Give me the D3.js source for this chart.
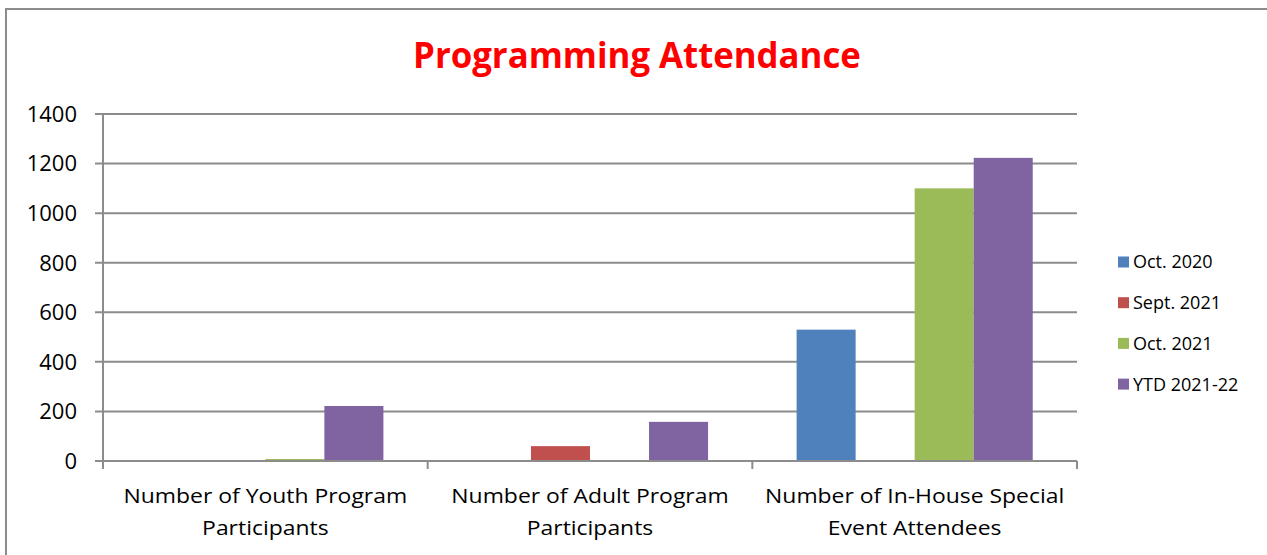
<!DOCTYPE html>
<html>
<head>
<meta charset="utf-8">
<script src="https://cdn.jsdelivr.net/npm/d3@7"></script>
<style>
  html, body { margin: 0; padding: 0; background: #fff; }
  svg { display: block; }
</style>
</head>
<body>
<svg id="chart" width="1267" height="555"></svg>
<script>
// chart data
const categories = [
  ["Number of Youth Program", "Participants"],
  ["Number of Adult Program", "Participants"],
  ["Number of In-House Special", "Event Attendees"]
]
const seriesNames = ["Oct. 2020", "Sept. 2021", "Oct. 2021", "YTD 2021-22"]
const oct2020  = [0, 0, 530]
const sept2021 = [0, 60, 0]
const oct2021  = [8, 0, 1100]
const ytd2122  = [222, 158, 1223]
const yTicks   = [0, 200, 400, 600, 800, 1000, 1200, 1400]

const seriesValues = [oct2020, sept2021, oct2021, ytd2122]
const colors = ["#4F81BD", "#C0504D", "#9BBB59", "#8064A2"]
const gridColor = "#8c8c8c"
const font = "'Open Sans', 'Liberation Sans', Arial, sans-serif"

const svg = d3.select("#chart")

// stretch a text horizontally (around its anchor) to reach a width
function stretchTo(sel, w) {
  sel.each(function() {
    const t = d3.select(this)
    const k = w / this.getComputedTextLength()
    const x = +t.attr("x")
    t.attr("transform", `translate(${x},0) scale(${k},1) translate(${-x},0)`)
  })
}

// outer frame (runs off the right and bottom edges)
svg.append("rect")
  .attr("x", 6).attr("y", 9)
  .attr("width", 1400).attr("height", 700)
  .attr("fill", "none")
  .attr("stroke", gridColor)
  .attr("stroke-width", 2)

// title
svg.append("text")
  .attr("x", 637).attr("y", 68)
  .attr("text-anchor", "middle")
  .style("font-family", font)
  .style("font-weight", "bold")
  .style("font-size", "35px")
  .attr("fill", "#ff0000")
  .text("Programming Attendance")
  .call(stretchTo, 448)

// scales
const plotLeft = 103, plotRight = 1077, plotTop = 114, plotBottom = 461

const x0 = d3.scaleBand()
  .domain(d3.range(categories.length))
  .range([plotLeft, plotRight])
  .padding(0)

const x1 = d3.scaleBand()
  .domain(d3.range(seriesNames.length))
  .range([0, x0.bandwidth()])
  .paddingInner(0)
  .paddingOuter(0.75)

const y = d3.scaleLinear()
  .domain([0, 1400])
  .range([plotBottom, plotTop])

// gridlines
svg.append("g")
  .selectAll("line")
  .data(yTicks)
  .join("line")
    .attr("x1", plotLeft - 8).attr("x2", plotRight)
    .attr("y1", d => y(d)).attr("y2", d => y(d))
    .attr("stroke", gridColor)
    .attr("stroke-width", 2)

// y axis line
svg.append("line")
  .attr("x1", plotLeft).attr("x2", plotLeft)
  .attr("y1", plotTop).attr("y2", plotBottom)
  .attr("stroke", gridColor)
  .attr("stroke-width", 2)

// y tick labels
svg.append("g")
  .selectAll("text")
  .data(yTicks)
  .join("text")
    .attr("x", 77)
    .attr("y", d => y(d))
    .attr("dy", "0.36em")
    .attr("text-anchor", "end")
    .style("font-family", font)
    .style("font-size", "22px")
    .attr("fill", "#000")
    .text(d => d)

// bars
seriesValues.forEach((vals, si) => {
  svg.append("g")
    .selectAll("rect")
    .data(vals)
    .join("rect")
      .attr("x", (d, ci) => x0(ci) + x1(si))
      .attr("width", x1.bandwidth())
      .attr("y", d => y(d))
      .attr("height", d => y(0) - y(d))
      .attr("fill", colors[si])
})

// x axis line + ticks at category boundaries
svg.append("line")
  .attr("x1", plotLeft).attr("x2", plotRight)
  .attr("y1", plotBottom).attr("y2", plotBottom)
  .attr("stroke", gridColor)
  .attr("stroke-width", 2)

const bounds = d3.range(categories.length).map(i => x0(i)).concat([plotRight])
svg.append("g")
  .selectAll("line")
  .data(bounds)
  .join("line")
    .attr("x1", d => d).attr("x2", d => d)
    .attr("y1", plotBottom).attr("y2", plotBottom + 8)
    .attr("stroke", gridColor)
    .attr("stroke-width", 2)

// category labels (two lines each)
const catLabels = svg.append("g")
  .selectAll("g")
  .data(categories)
  .join("g")
    .attr("transform", (d, i) => `translate(${x0(i) + x0.bandwidth() / 2},0)`)

const catText = catLabels.selectAll("text")
  .data(d => d)
  .join("text")
    .attr("x", 0)
    .attr("y", (d, i) => 503 + i * 32)
    .attr("text-anchor", "middle")
    .style("font-family", font)
    .style("font-size", "19.5px")
    .attr("fill", "#000")
    .text(d => d)

// same horizontal stretch for all category labels, taken from the first one
const kCat = 284 / catText.node().getComputedTextLength()
catLabels.attr("transform", (d, i) => `translate(${x0(i) + x0.bandwidth() / 2},0) scale(${kCat},1)`)

// legend
const legend = svg.append("g")
  .selectAll("g")
  .data(seriesNames)
  .join("g")
    .attr("transform", (d, i) => `translate(1118, ${262 + i * 40.7})`)

legend.append("rect")
  .attr("x", 0).attr("y", -5.5)
  .attr("width", 11).attr("height", 11)
  .attr("fill", (d, i) => colors[i])

legend.append("text")
  .attr("x", 15).attr("y", 0)
  .attr("dy", "0.36em")
  .style("font-family", font)
  .style("font-size", "18px")
  .attr("fill", "#000")
  .text(d => d)
</script>
</body>
</html>
